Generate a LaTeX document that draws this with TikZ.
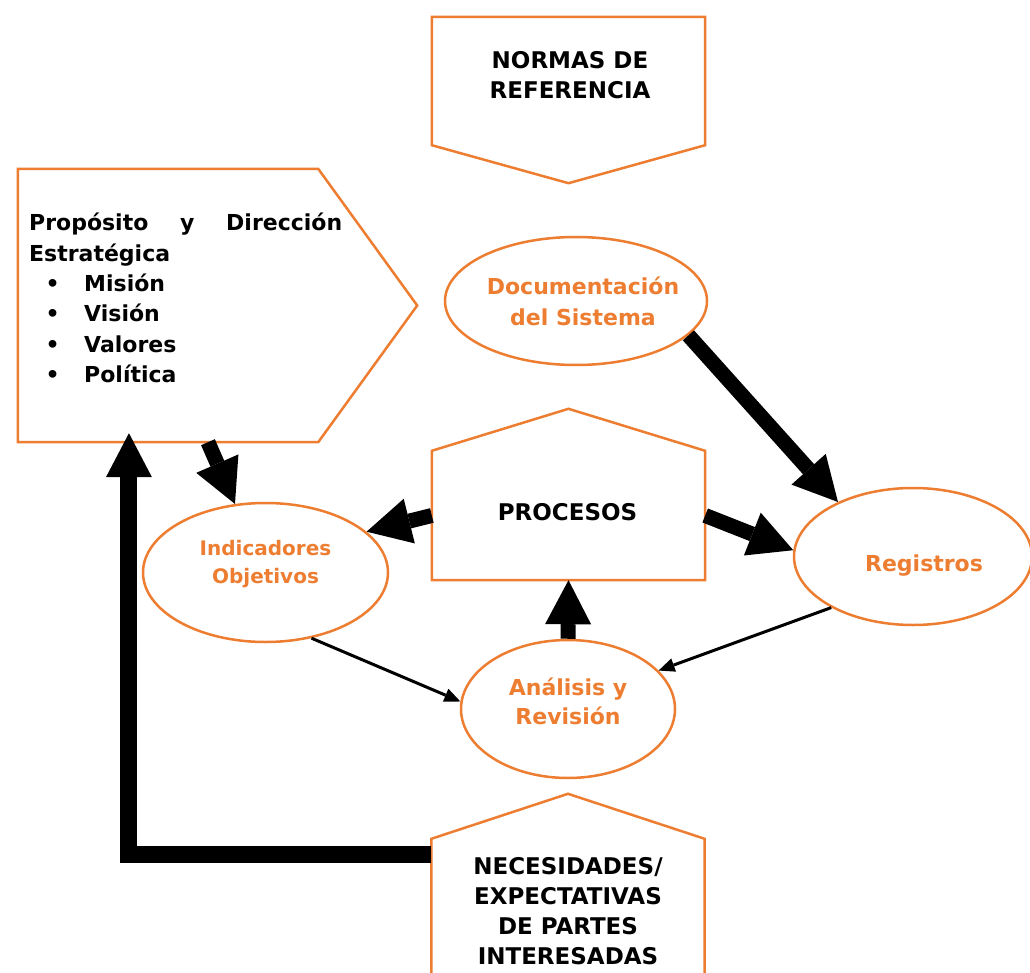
\documentclass[tikz,border=0pt]{standalone}
\usepackage{fontspec}
\setmainfont{DejaVu Sans}
\usetikzlibrary{calc,arrows.meta,shapes.geometric}
\definecolor{ornj}{RGB}{237,125,49}
\tikzset{
	outl/.style={draw=ornj, line width=2.5pt, line join=miter},
	body/.style={inner sep=0pt, minimum width=273pt},
	oval/.style={ellipse, draw=ornj, line width=2.5pt, inner sep=0pt},
	ovaltxt/.style={text=ornj, font=\fontsize{22}{31}\selectfont\bfseries, align=center, inner sep=0pt},
	boxtxt/.style={font=\fontsize{23}{30}\selectfont\bfseries, align=center, inner sep=0pt},
	fatarrow/.style={line width=15pt, -{Triangle[width=46pt,length=44pt,line width=0pt]}},
	thinarrow/.style={line width=3pt, -{Triangle[width=14pt,length=16pt,line width=0pt]}}
}

\begin{document}
\begin{tikzpicture}[x=1pt, y=-1pt]
		%%%%% START %%%%%
		\useasboundingbox[fill=white] (0,0) rectangle (1030,973);
		
		\node[body, minimum height=128pt] (norm) at (568.5,81) {};
		\draw[outl] (norm.north west) -- (norm.north east) -- (norm.south east) -- ($(norm.south)+(0,38)$) -- (norm.south west) -- cycle;
		\node[boxtxt] (normtxt) at (570,75) {NORMAS DE\\REFERENCIA};
		
		\node[inner sep=0pt, minimum width=300pt, minimum height=273pt] (purp) at (168,305.5) {};
		\draw[outl] (purp.north west) -- (purp.north east) -- ($(purp.east)+(99,0)$) -- (purp.south east) -- (purp.south west) -- cycle;
		\node[anchor=north west, align=left, inner sep=0pt, font=\fontsize{22}{30.4}\selectfont\bfseries] (purptxt) at (29,213)
			{\makebox[313pt][s]{Propósito y Dirección}\\Estratégica\\
			\hspace*{16.5pt}•\hspace*{24.5pt}Misión\\
			\hspace*{16.5pt}•\hspace*{24.5pt}Visión\\
			\hspace*{16.5pt}•\hspace*{24.5pt}Valores\\
			\hspace*{16.5pt}•\hspace*{24.5pt}Política};
		
		\node[oval, minimum width=262pt, minimum height=128pt] (doc) at (576,301) {};
		\node[ovaltxt] (doctxt) at (583,301) {Documentación\\del Sistema};
		
		\node[body, minimum height=129pt] (proc) at (568.5,515.5) {};
		\draw[outl] (proc.south west) -- (proc.north west) -- ($(proc.north)+(0,-42)$) -- (proc.north east) -- (proc.south east) -- cycle;
		\node[boxtxt] (proctxt) at (567.5,512) {PROCESOS};
		
		\node[oval, minimum width=245pt, minimum height=139pt] (ind) at (265.5,572.5) {};
		\node[ovaltxt, font=\fontsize{20}{28}\selectfont\bfseries] (indtxt) at (265.5,564) {Indicadores\\Objetivos};
		
		\node[oval, minimum width=238pt, minimum height=137pt] (reg) at (913,556.5) {};
		\node[ovaltxt] (regtxt) at (924,566) {Registros};
		
		\node[oval, minimum width=214pt, minimum height=138pt] (ana) at (568,709) {};
		\node[ovaltxt, font=\fontsize{22}{29}\selectfont\bfseries] (anatxt) at (568,701) {Análisis y\\Revisión};
		
		\node[body, minimum height=151pt] (nec) at (568,914.5) {};
		\draw[outl] (nec.south west) -- (nec.north west) -- ($(nec.north)+(0,-45)$) -- (nec.north east) -- (nec.south east);
		\node[boxtxt] (nectxt) at (568,911) {NECESIDADES/\\EXPECTATIVAS\\DE PARTES\\INTERESADAS};
		
		\draw[fatarrow] (doc.-17.5) -- (reg.144);
		\draw[fatarrow] (proc.east) -- (reg.177);
		\draw[fatarrow] (proc.west) -- (ind.22);
		\draw[fatarrow] ($(purp.south west)!0.633!(purp.south east)$) -- (ind.114);
		\draw[fatarrow] (ana.north) -- (proc.south);
		
		\draw[thinarrow] (ind.-55) -- (ana.176);
		\draw[thinarrow] (reg.-148) -- (ana.23);
		
		\coordinate (feed) at ($(nec.north west)+(0,16)$);
		\draw[fatarrow, line width=17pt, line join=miter, shorten >=-9pt] (feed) -| ($(purp.south west)!0.37!(purp.south east)$);
		%%%%% END %%%%%
	\end{tikzpicture}
\end{document}
